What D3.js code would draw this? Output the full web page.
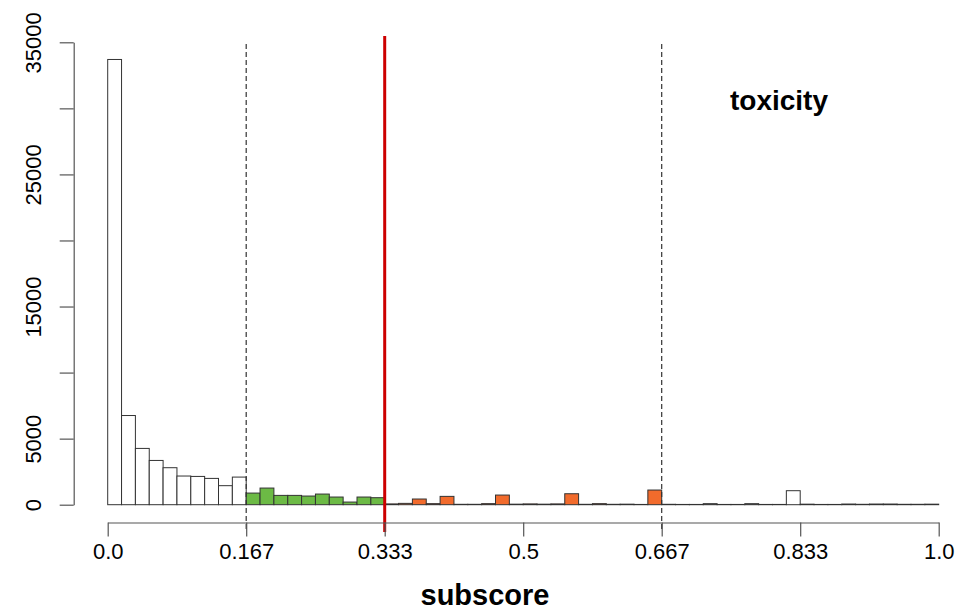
<!DOCTYPE html>
<html>
<head>
<meta charset="utf-8">
<script src="https://cdn.jsdelivr.net/npm/d3@7"></script>
<style>
  body { margin: 0; background: #fff; }
  svg { display: block; font-family: "Liberation Sans", Arial, Helvetica, sans-serif; }
</style>
</head>
<body>
<div id="chart"></div>
<script>
// histogram of toxicity subscores, 60 bins of width 1/60
const binCount = 60;
const counts = [
  33700, 6750, 4260, 3350, 2800, 2170, 2140, 1990, 1440, 2090,
  880, 1260, 705, 705, 655, 806, 580, 200, 580, 530,
  60, 100, 430, 80, 630, 30, 30, 80, 730, 40,
  60, 40, 60, 830, 30, 80, 30, 40, 20, 1110,
  30, 20, 20, 80, 20, 20, 80, 20, 20, 1060,
  40, 20, 20, 50, 30, 50, 50, 30, 30, 40
];
const xTicks = [0, 1 / 6, 1 / 3, 1 / 2, 2 / 3, 5 / 6, 1];
const xTickLabels = ["0.0", "0.167", "0.333", "0.5", "0.667", "0.833", "1.0"];
const yTicks = [0, 5000, 10000, 15000, 20000, 25000, 30000, 35000];
const yTickLabels = ["0", "5000", "", "15000", "", "25000", "", "35000"];
const dashedCuts = [1 / 6, 2 / 3];
const threshold = 1 / 3;
const bands = [
  { from: 1 / 6, to: 1 / 3, color: "#6cba45" },
  { from: 1 / 3, to: 2 / 3, color: "#f26b2c" }
];

const width = 975, height = 610;

const x = d3.scaleLinear().domain([0, 1]).range([107.7, 938.7]);
const y = d3.scaleLinear().domain([0, 35000]).range([504.7, 42.3]);

const bins = counts.map((c, i) => ({ x0: i / binCount, x1: (i + 1) / binCount, count: c }));

function fillFor(d) {
  const mid = (d.x0 + d.x1) / 2;
  const band = bands.find(b => mid > b.from && mid < b.to);
  return band ? band.color : "#fff";
}

const svg = d3.create("svg")
    .attr("width", width)
    .attr("height", height)
    .attr("viewBox", [0, 0, width, height]);

d3.select("#chart").append(() => svg.node());

// bars
svg.append("g")
  .selectAll("rect")
  .data(bins)
  .join("rect")
    .attr("x", d => x(d.x0))
    .attr("width", d => x(d.x1) - x(d.x0))
    .attr("y", d => y(d.count))
    .attr("height", d => y(0) - y(d.count))
    .attr("fill", fillFor)
    .attr("stroke", "#333")
    .attr("stroke-width", 1);

// dashed cut lines
svg.append("g")
  .selectAll("line")
  .data(dashedCuts)
  .join("line")
    .attr("x1", d => x(d))
    .attr("x2", d => x(d))
    .attr("y1", 44)
    .attr("y2", 532)
    .attr("stroke", "#333")
    .attr("stroke-width", 1.2)
    .attr("stroke-dasharray", "5,3");

// threshold line
svg.append("line")
    .attr("x1", x(threshold))
    .attr("x2", x(threshold))
    .attr("y1", 36)
    .attr("y2", 532)
    .attr("stroke", "#cc0000")
    .attr("stroke-width", 3);

const tickFont = "\"Liberation Sans\", Arial, sans-serif";

// x axis
const xAxis = svg.append("g")
    .attr("transform", "translate(0,522.5)")
    .call(d3.axisBottom(x)
      .tickValues(xTicks)
      .tickFormat((d, i) => xTickLabels[i])
      .tickSize(14)
      .tickSizeOuter(0)
      .tickPadding(7));

xAxis.select(".domain").attr("stroke", "#555").attr("stroke-width", 1.2);
xAxis.selectAll(".tick line").attr("stroke", "#555").attr("stroke-width", 1.2);
xAxis.selectAll("text")
    .attr("fill", "#000")
    .style("font-size", "22px")
    .style("font-family", tickFont);

// y axis
const yAxis = svg.append("g")
    .attr("transform", "translate(73.7,0)")
    .call(d3.axisLeft(y)
      .tickValues(yTicks)
      .tickFormat((d, i) => yTickLabels[i])
      .tickSize(14)
      .tickSizeOuter(0)
      .tickPadding(8));

yAxis.select(".domain").attr("stroke", "#555").attr("stroke-width", 1.2);
yAxis.selectAll(".tick line").attr("stroke", "#555").attr("stroke-width", 1.2);
yAxis.selectAll("text")
    .attr("fill", "#000")
    .attr("text-anchor", "middle")
    .attr("x", 0)
    .attr("dy", 0)
    .attr("transform", "translate(-33,0) rotate(-90)")
    .style("font-size", "22px")
    .style("font-family", tickFont);

// axis title
svg.append("text")
    .attr("x", 485)
    .attr("y", 605)
    .attr("text-anchor", "middle")
    .style("font-size", "29px")
    .style("font-weight", "bold")
    .text("subscore");

// panel label
svg.append("text")
    .attr("x", 779)
    .attr("y", 110)
    .attr("text-anchor", "middle")
    .style("font-size", "28px")
    .style("font-weight", "bold")
    .text("toxicity");
</script>
</body>
</html>
